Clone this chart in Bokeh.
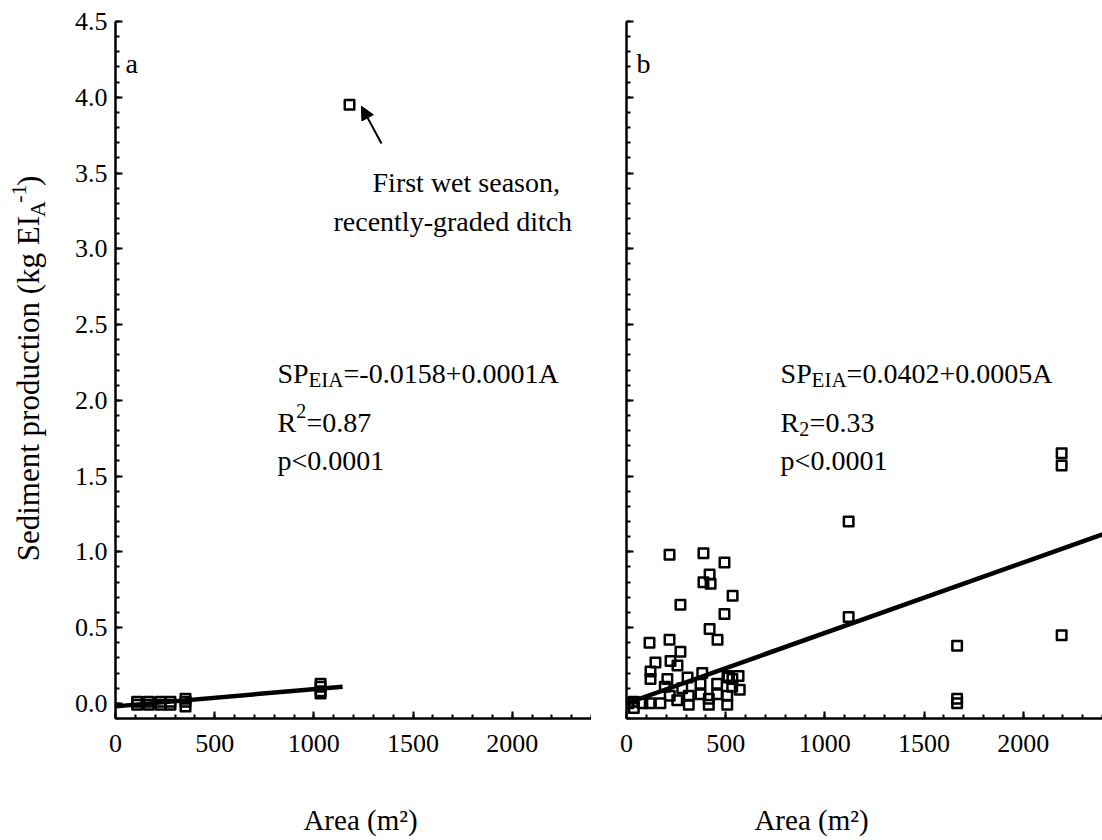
import math
from bokeh.plotting import figure
from bokeh.layouts import row, column
from bokeh.models import Range1d, FixedTicker, Arrow, NormalHead, PrintfTickFormatter, CustomJSTickFormatter
from bokeh.core.properties import value
from bokeh.embed import file_html
from bokeh.resources import INLINE

FONT = "Liberation Serif"

# ---------------- data ----------------
# Panel a
area_a = [109, 109, 168, 168, 227, 227, 277, 277, 353, 353, 353, 1034, 1034, 1034, 1034, 1180]
sp_a = [0.01, -0.01, 0.01, -0.01, 0.01, -0.01, 0.01, -0.01, 0.03, 0.01, -0.02, 0.13, 0.11, 0.08, 0.065, 3.95]
fit_a_x = [0, 1145]
fit_a_y = [-0.02, 0.11]

# Panel b
area_b = [217, 388, 494, 419, 388, 424, 535, 272, 494, 419, 459, 116, 217, 272, 222, 257, 146,
          121, 121, 206, 308, 382, 373, 457, 514, 565, 533, 571, 37, 117, 171, 218, 256, 314,
          314, 373, 415, 457, 508, 508, 415, 37, 281, 193, 10, 80, 509, 534,
          1120, 1120, 1667, 1667, 1667, 2194, 2194, 2194]
sp_b = [0.98, 0.99, 0.93, 0.85, 0.80, 0.79, 0.71, 0.65, 0.59, 0.49, 0.42, 0.40, 0.42, 0.34, 0.28, 0.25, 0.27,
        0.21, 0.16, 0.16, 0.17, 0.20, 0.13, 0.13, 0.17, 0.18, 0.11, 0.09, 0.01, 0.0, 0.0, 0.05, 0.02, 0.05,
        -0.01, 0.06, 0.03, 0.06, 0.05, -0.01, -0.01, -0.03, 0.10, 0.11, 0.0, 0.0, 0.18, 0.16,
        1.20, 0.57, 0.38, 0.03, 0.0, 1.65, 1.57, 0.45]
fit_b_x = [0, 2400]
fit_b_y = [0.0, 1.115]

x_ticks = [0, 500, 1000, 1500, 2000]
x_minor = [100 * i for i in range(0, 25)]
y_ticks = [0.0, 0.5, 1.0, 1.5, 2.0, 2.5, 3.0, 3.5, 4.0, 4.5]
y_minor = [round(0.1 * i, 1) for i in range(-1, 46)]

eq_a = ["SP", "EIA", "=-0.0158+0.0001A"]
r2_a = ["R", "2", "=0.87"]
eq_b = ["SP", "EIA", "=0.0402+0.0005A"]
r2_b = ["R", "2", "=0.33"]
p_text = "p<0.0001"
note_lines = ["First wet season,", "recently-graded ditch"]
y_label = ["Sediment production (kg EI", "A", "-1", ")"]
x_label = "Area (m²)"

W, H = 1102, 840
TOP_H = 780     # height of the row holding the two panels
YLAB_W = 60     # width of the strip holding the y-axis title
PA_W = 115 - YLAB_W + 476
PB_W = W - YLAB_W - PA_W
LIFT = -10      # screen-pixel correction of the text baseline


def make_panel(width, left_border):
    p = figure(width=width, height=TOP_H,
               x_range=Range1d(0, 2400), y_range=Range1d(-0.1, 4.5),
               output_backend="svg", toolbar_location=None, title=None,
               min_border_left=left_border, min_border_right=0,
               min_border_top=21, min_border_bottom=TOP_H - 21 - 697)
    p.outline_line_color = None
    p.grid.visible = False
    p.background_fill_color = "white"
    p.border_fill_color = "white"
    for ax in (p.xaxis[0], p.yaxis[0]):
        ax.axis_line_width = 2.5
        ax.axis_line_color = "black"
        ax.major_tick_line_width = 2
        ax.minor_tick_line_width = 2
        ax.major_tick_line_color = "black"
        ax.minor_tick_line_color = "black"
        ax.major_tick_in = 7
        ax.major_tick_out = 0
        ax.minor_tick_in = 4
        ax.minor_tick_out = 0
        ax.major_label_text_font = FONT
        ax.major_label_text_font_size = "26px"
        ax.major_label_text_color = "black"
    p.xaxis.ticker = FixedTicker(ticks=x_ticks, minor_ticks=x_minor)
    p.yaxis.ticker = FixedTicker(ticks=y_ticks, minor_ticks=y_minor)
    p.xaxis.major_label_standoff = 16
    p.yaxis.major_label_standoff = 8
    return p


def blank(w, h):
    f = figure(width=w, height=h, x_range=Range1d(0, w), y_range=Range1d(0, h),
               x_axis_type=None, y_axis_type=None, output_backend="svg",
               toolbar_location=None, title=None,
               min_border=0, min_border_left=0, min_border_right=0,
               min_border_top=0, min_border_bottom=0)
    f.outline_line_color = None
    f.background_fill_color = "white"
    f.border_fill_color = "white"
    return f


def txt(p, x, y, s, size, dx=0, dy=0, angle=0.0, align="left", baseline="alphabetic", lift=LIFT):
    p.text(x=[x], y=[y], text=[s], x_offset=dx, y_offset=dy + lift, angle=angle,
           text_font=value(FONT), text_font_size=f"{size}px", text_color="black",
           text_align=align, text_baseline=baseline)


# ---------------- panel a ----------------
p1 = make_panel(PA_W, 115 - YLAB_W)
p1.yaxis.formatter = PrintfTickFormatter(format="%.1f")
p1.scatter(area_a, sp_a, marker="square", size=9.5, line_width=2.5, line_color="black",
           fill_alpha=0, line_join="round")
p1.line(fit_a_x, fit_a_y, line_width=4.5, line_color="black")

txt(p1, 50, 4.157, "a", 28)
x0 = 817
txt(p1, x0, 2.111, eq_a[0], 28)
txt(p1, x0, 2.111, eq_a[1], 21, dx=31, dy=7)
txt(p1, x0, 2.111, eq_a[2], 28, dx=66)
txt(p1, x0, 1.790, r2_a[0], 28)
txt(p1, x0, 1.790, r2_a[1], 20, dx=18.7, dy=-11)
txt(p1, x0, 1.790, r2_a[2], 28, dx=29)
txt(p1, x0, 1.537, p_text, 28)
txt(p1, 1296, 3.372, note_lines[0], 28)
txt(p1, 1099, 3.114, note_lines[1], 28)
p1.add_layout(Arrow(end=NormalHead(size=13, fill_color="black", line_color="black"),
                    x_start=1341, y_start=3.695, x_end=1240, y_end=3.94,
                    line_width=2, line_color="black"))

# ---------------- panel b ----------------
p2 = make_panel(PB_W, 35)
p2.yaxis.formatter = CustomJSTickFormatter(code="return ''")
p2.scatter(area_b, sp_b, marker="square", size=9.5, line_width=2.5, line_color="black",
           fill_alpha=0, line_join="round")
p2.line(fit_b_x, fit_b_y, line_width=4.5, line_color="black")

txt(p2, 50, 4.157, "b", 28)
x1 = 777
txt(p2, x1, 2.111, eq_b[0], 28)
txt(p2, x1, 2.111, eq_b[1], 21, dx=31, dy=7)
txt(p2, x1, 2.111, eq_b[2], 28, dx=66)
txt(p2, x1, 1.790, r2_b[0], 28)
txt(p2, x1, 1.790, r2_b[1], 20, dx=18.7, dy=7)
txt(p2, x1, 1.790, r2_b[2], 28, dx=29)
txt(p2, x1, 1.537, p_text, 28)

# ---------------- y-axis title strip (rotated, with sub/superscript) ----------------
# strip coordinates are pixels, y measured upward from the strip's bottom
ys = blank(YLAB_W, TOP_H)
rot = math.pi / 2
y0 = TOP_H - 563
pieces = [(y_label[0], 31, 27.5, 345.3, "right"),
          (y_label[1], 22, 36.5, 353.2, "center"),
          (y_label[2], 22, 18.5, 370.3, "center"),
          (y_label[3], 31, 27.5, 384.6, "center")]
for s, fs, xc, yc, al in pieces:
    txt(ys, xc, y0 + yc, s, fs, angle=rot, align=al, baseline="middle", lift=0)

# ---------------- x-axis title strip ----------------
XS_H = H - TOP_H
xs = blank(W, XS_H)
base = XS_H - (829 - TOP_H)
txt(xs, 360, base, x_label, 29, align="center")
txt(xs, 811, base, x_label, 29, align="center")

layout = column(row(ys, p1, p2), xs)
open("out.html", "w").write(file_html(layout, INLINE))
